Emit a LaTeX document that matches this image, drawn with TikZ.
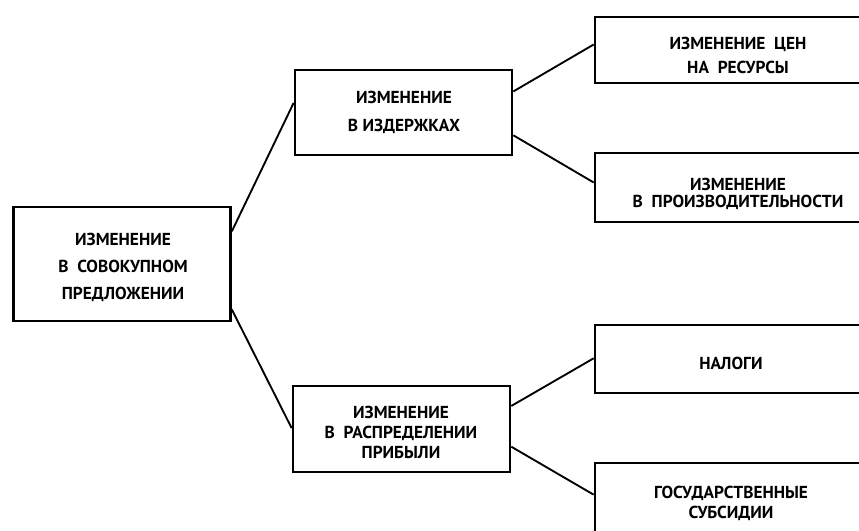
\documentclass[tikz,border=0pt]{standalone}
\usepackage{fontspec}
\setmainfont{PT Sans}
\usetikzlibrary{calc}

\tikzset{
  box/.style={draw, line width=2pt, rectangle, inner sep=0pt},
  caption/.style={inner sep=0.75pt, align=center,
    font=\fontsize{13}{15}\selectfont\bfseries},
  link/.style={line width=1.4pt}
}

\begin{document}
\begin{tikzpicture}[x=0.75pt,y=0.75pt,yscale=-1,xscale=1]
\useasboundingbox (0,0) rectangle (859,531);
\fill[white] (0,0) rectangle (859,531);
\begin{scope}
\clip (0,0) rectangle (859,531);

%Shape: Rectangle 
\node[box, minimum width=162.75pt, minimum height=85.5pt] (supply) at (122,264) {};
%Shape: Rectangle 
\node[box, minimum width=162.75pt, minimum height=63.75pt] (costs) at (403.5,112.5) {};
%Shape: Rectangle 
\node[box, minimum width=162.75pt, minimum height=64.5pt] (profit) at (401.5,429) {};
%Shape: Rectangle 
\node[box, minimum width=211.5pt, minimum height=49.5pt] (prices) at (736,50) {};
%Shape: Rectangle 
\node[box, minimum width=211.5pt, minimum height=51.75pt] (output) at (736,187.5) {};
%Shape: Rectangle 
\node[box, minimum width=211.5pt, minimum height=51pt] (taxes) at (736,359) {};
%Shape: Rectangle 
\node[box, minimum width=211.5pt, minimum height=61.5pt] (grants) at (736,504) {};

% Text Node
\node[caption] (supplytext) at (123,267) {ИЗМЕНЕНИЕ\\[5.25pt]В\ \ СОВОКУПНОМ\\[5.25pt]ПРЕДЛОЖЕНИИ};
% Text Node
\node[caption] (coststext) at (404,112) {ИЗМЕНЕНИЕ\\[6pt]В\ ИЗДЕРЖКАХ};
% Text Node
\node[caption] (profittext) at (401,432) {ИЗМЕНЕНИЕ\\[0pt]В\ \ РАСПРЕДЕЛЕНИИ\\[0pt]ПРИБЫЛИ};
% Text Node
\node[caption] (pricestext) at (738,55) {ИЗМЕНЕНИЕ\ \ ЦЕН\\[3pt]НА\ \ РЕСУРСЫ};
% Text Node
\node[caption] (outputtext) at (738,194) {ИЗМЕНЕНИЕ\\[-2pt]В\ \ ПРОИЗВОДИТЕЛЬНОСТИ};
% Text Node
\node[caption] (taxestext) at (731,363) {НАЛОГИ};
% Text Node
\node[caption] (grantstext) at (731,503) {ГОСУДАРСТВЕННЫЕ\\[0pt]СУБСИДИИ};

%Straight Lines 
\draw[link] ($(supply.north east)!0.22!(supply.south east)$) -- ($(costs.north west)!0.39!(costs.south west)$);
%Straight Lines 
\draw[link] ($(supply.north east)!0.89!(supply.south east)$) -- ($(profit.north west)!0.49!(profit.south west)$);
%Straight Lines 
\draw[link] ($(costs.north east)!0.26!(costs.south east)$) -- ($(prices.north west)!0.42!(prices.south west)$);
%Straight Lines 
\draw[link] ($(costs.north east)!0.76!(costs.south east)$) -- ($(output.north west)!0.43!(output.south west)$);
%Straight Lines 
\draw[link] ($(profit.north east)!0.24!(profit.south east)$) -- ($(taxes.north west)!0.49!(taxes.south west)$);
%Straight Lines 
\draw[link] ($(profit.north east)!0.70!(profit.south east)$) -- ($(grants.north west)!0.39!(grants.south west)$);

\end{scope}
\end{tikzpicture}
\end{document}
